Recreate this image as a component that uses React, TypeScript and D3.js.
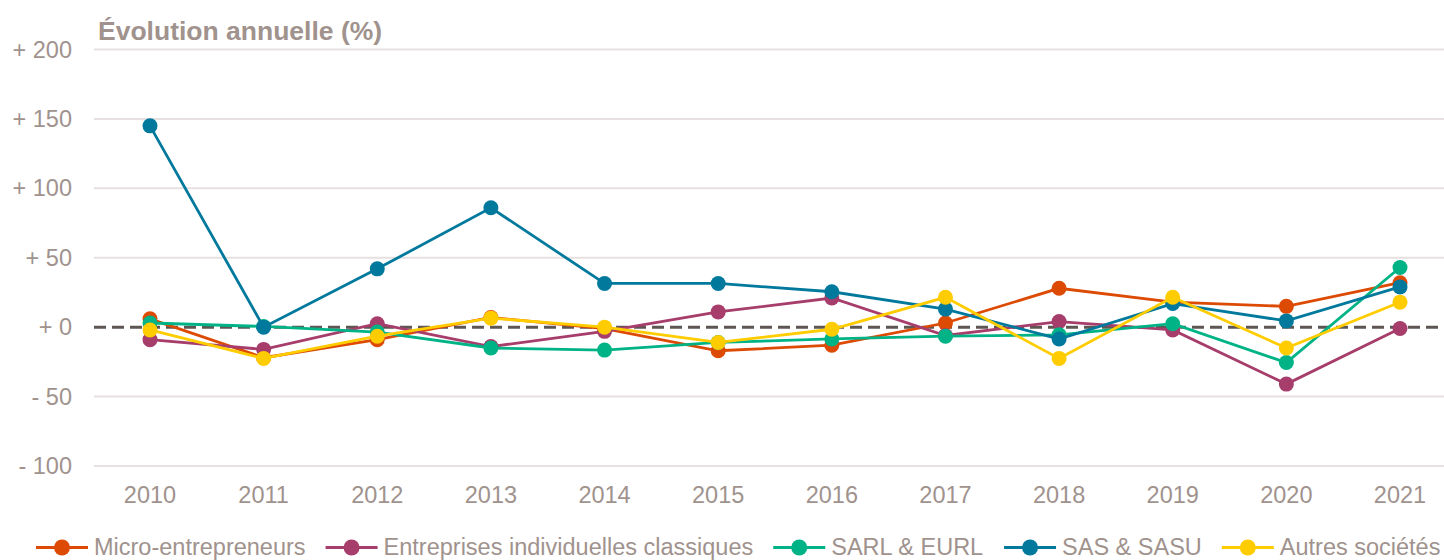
import React from "react";
import * as d3 from "d3";

const years = ["2010", "2011", "2012", "2013", "2014", "2015", "2016", "2017", "2018", "2019", "2020", "2021"];
const microEntrepreneurs = [6, -22, -9, 7, -1, -17, -13, 3, 28, 18, 15, 32];
const entreprisesIndividuelles = [-9, -16, 2.5, -14, -3, 11, 21, -6, 4, -2, -41, -1];
const sarlEurl = [3, 0.5, -3.5, -15, -16.5, -11, -8.5, -6.5, -5.5, 2.5, -25.5, 43];
const sasSasu = [145, 0, 42, 86, 31.5, 31.5, 25.5, 13, -8.5, 17, 4.5, 29];
const autresSocietes = [-2, -22.5, -6.5, 6.5, 0, -11, -1.5, 21.5, -22.5, 21.5, -15, 18];
const yTicks = [200, 150, 100, 50, 0, -50, -100];

const series = [
  { name: "Micro-entrepreneurs", color: "#DD4A04", values: microEntrepreneurs },
  { name: "Entreprises individuelles classiques", color: "#A63D6B", values: entreprisesIndividuelles },
  { name: "SARL & EURL", color: "#00B386", values: sarlEurl },
  { name: "SAS & SASU", color: "#00799C", values: sasSasu },
  { name: "Autres sociétés", color: "#FFCC00", values: autresSocietes },
];

const W = 1444;
const H = 560;
const textColor = "#A0928D";
const font = "'Liberation Sans', Arial, sans-serif";
const fs = 23.5;

const measure = (s: string, size: number) => {
  const c = document.createElement("canvas").getContext("2d")!;
  c.font = `${size}px ${font}`;
  return c.measureText(s).width;
};

const App = () => {
  const x = d3.scalePoint<string>().domain(years).range([150, 1400]);
  const y = d3.scaleLinear().domain([-100, 200]).range([466, 49.5]);
  const line = d3
    .line<number>()
    .x((_, i) => x(years[i])!)
    .y((d) => y(d));

  // legend: 52px line, 6px gap, text, 20px gap
  const legendItems: { x: number; s: typeof series[0] }[] = [];
  let lx = 36;
  series.forEach((s) => {
    legendItems.push({ x: lx, s });
    lx += 58 + measure(s.name, fs) + 20;
  });

  return (
    <svg width={W} height={H} style={{ position: "absolute", left: 0, top: 0 }} fontFamily={font}>
      <text x={98} y={40} fontSize={26.5} fontWeight="bold" fill={textColor}>
        Évolution annuelle (%)
      </text>
      {yTicks.map((t) => (
        <g key={t}>
          {t !== 0 && (
            <line x1={94} x2={W} y1={y(t)} y2={y(t)} stroke="#E6E1E0" strokeWidth={2} />
          )}
          <text x={72} y={y(t) + 8} fontSize={fs} textAnchor="end" fill={textColor}>
            {t >= 0 ? `+ ${t}` : `- ${Math.abs(t)}`}
          </text>
        </g>
      ))}
      <line
        x1={94}
        x2={W}
        y1={y(0)}
        y2={y(0)}
        stroke="#5E5653"
        strokeWidth={3}
        strokeDasharray="12 6"
      />
      {years.map((yr) => (
        <text key={yr} x={x(yr)} y={503} fontSize={fs} textAnchor="middle" fill={textColor}>
          {yr}
        </text>
      ))}
      {series.map((s) => (
        <g key={s.name}>
          <path d={line(s.values)!} fill="none" stroke={s.color} strokeWidth={2.8} />
          {s.values.map((v, i) => (
            <circle key={i} cx={x(years[i])} cy={y(v)} r={7.5} fill={s.color} />
          ))}
        </g>
      ))}
      {legendItems.map(({ x: px, s }) => (
        <g key={s.name}>
          <line x1={px} x2={px + 52} y1={547.5} y2={547.5} stroke={s.color} strokeWidth={2.8} />
          <circle cx={px + 26} cy={547.5} r={8} fill={s.color} />
          <text x={px + 58} y={554.5} fontSize={fs} fill={textColor}>
            {s.name}
          </text>
        </g>
      ))}
    </svg>
  );
};

export default App;
